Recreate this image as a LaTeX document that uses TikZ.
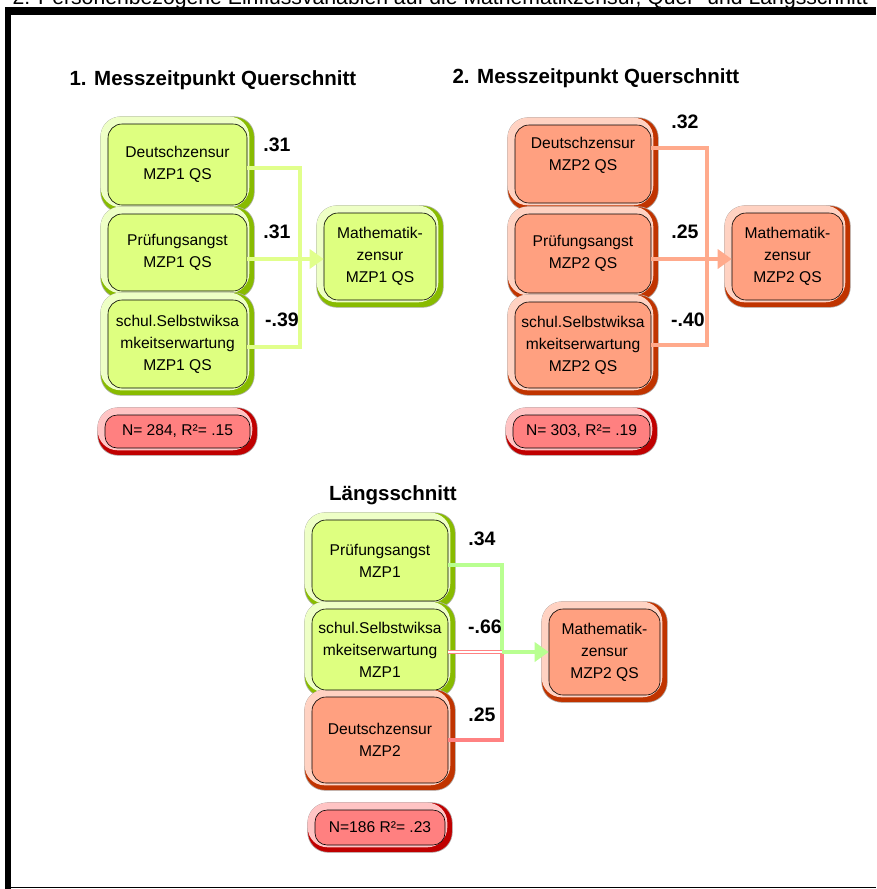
\documentclass[tikz,border=0pt]{standalone}
\usepackage{fontspec}
\setmainfont{Liberation Sans}
\usepackage{tikz}
\usetikzlibrary{calc,arrows.meta,positioning,backgrounds}

\definecolor{fillgrn}{RGB}{222,255,128}
\definecolor{lightgrn}{RGB}{238,255,198}
\definecolor{darkgrn}{RGB}{136,187,0}
\definecolor{fillsal}{RGB}{255,160,128}
\definecolor{lightsal}{RGB}{255,210,194}
\definecolor{darksal}{RGB}{192,52,0}
\definecolor{fillred}{RGB}{255,128,128}
\definecolor{lightred}{RGB}{255,196,196}
\definecolor{darkred}{RGB}{192,0,0}
\definecolor{linkgrn}{RGB}{225,255,140}
\definecolor{linksal}{RGB}{255,170,140}
\definecolor{linklgr}{RGB}{185,255,145}
\definecolor{linkred}{RGB}{255,130,130}

\begin{document}
\begin{tikzpicture}
[x=1pt, y=-1pt, >={Triangle[length=14pt,width=19pt]}]
% Define styles for boxes, weights and links
\tikzstyle{box} = [draw=black, line width=0.6pt, rounded corners=14pt, align=center, inner sep=2pt, font=\fontsize{15.6}{22}\selectfont]
\tikzstyle{grnbox} = [box, fill=fillgrn]
\tikzstyle{salbox} = [box, fill=fillsal]
\tikzstyle{nbox} = [box, fill=fillred, rounded corners=12pt]
\tikzstyle{weight} = [font=\fontsize{19.5}{22}\selectfont\bfseries]
\tikzstyle{heading} = [font=\fontsize{20.5}{24}\selectfont\bfseries]
\tikzstyle{link} = [line width=4pt, line join=miter]

\useasboundingbox (0,0) rectangle (876,889);

% Frame and caption
\node [anchor=base east, inner sep=0pt, font=\fontsize{21.2}{24}\selectfont] (caption) at (868,4) {2: Personenbezogene Einflussvariablen auf die Mathematikzensur, Quer- und Längsschnitt};
\fill [black] (5,7) rectangle (876,15);
\fill [black] (5,7) rectangle (11,889);
\draw [line width=1.2pt] (5,887.5) -- (876,887.5);

% Headings
\node [heading, anchor=west] (head1) at (66,80) {1. Messzeitpunkt Querschnitt};
\node [heading, anchor=west] (head2) at (449,78) {2. Messzeitpunkt Querschnitt};
\node [heading] (head3) at (393,495) {Längsschnitt};

% Nodes placement, 1. Messzeitpunkt
\node [grnbox, minimum width=139pt, minimum height=81pt] (D1) at (177.5,164.5) {Deutschzensur\\MZP1 QS};
\node [grnbox, minimum width=139pt, minimum height=77pt] (P1) at (177.5,252.5) {Prüfungsangst\\MZP1 QS};
\node [grnbox, minimum width=139pt, minimum height=88pt] (S1) at (177.5,344) {schul.Selbstwiksa\\mkeitserwartung\\MZP1 QS};
\node [grnbox, minimum width=112pt, minimum height=87pt] (M1) at (380,256.5) {Mathematik-\\zensur\\MZP1 QS};
\node [nbox, minimum width=145pt, minimum height=33pt] (N1) at (177.5,431.5) {N= 284, R²= .15};

% Nodes placement, 2. Messzeitpunkt
\node [salbox, minimum width=136pt, minimum height=78pt, text depth=20pt] (D2) at (583,164) {Deutschzensur\\MZP2 QS};
\node [salbox, minimum width=136pt, minimum height=79pt] (P2) at (583,253.5) {Prüfungsangst\\MZP2 QS};
\node [salbox, minimum width=136pt, minimum height=86pt] (S2) at (583,345) {schul.Selbstwiksa\\mkeitserwartung\\MZP2 QS};
\node [salbox, minimum width=111pt, minimum height=87pt] (M2) at (787.5,256.5) {Mathematik-\\zensur\\MZP2 QS};
\node [nbox, minimum width=137pt, minimum height=33pt] (N2) at (581.5,431.5) {N= 303, R²= .19};

% Nodes placement, Laengsschnitt
\node [grnbox, minimum width=136pt, minimum height=81pt] (P3) at (380,560.5) {Prüfungsangst\\MZP1};
\node [grnbox, minimum width=136pt, minimum height=81pt] (S3) at (380,649.5) {schul.Selbstwiksa\\mkeitserwartung\\MZP1};
\node [salbox, minimum width=136pt, minimum height=86pt] (D3) at (380,740) {Deutschzensur\\MZP2};
\node [salbox, minimum width=111pt, minimum height=86pt] (M3) at (604.5,652) {Mathematik-\\zensur\\MZP2 QS};
\node [nbox, minimum width=130pt, minimum height=35pt] (N3) at (380,827.5) {N=186 R²= .23};

% Bevelled shells behind the boxes
\begin{scope}[on background layer]
\foreach \n/\c in {D1/grn, P1/grn, S1/grn, M1/grn, N1/red, D2/sal, P2/sal, S2/sal, M2/sal, N2/red, P3/grn, S3/grn, D3/sal, M3/sal, N3/red}{
  \path [fill=dark\c, draw=gray!60, line width=0.6pt, rounded corners=20pt]
    ($(\n.south west)+(-7pt,-7pt)$) rectangle ($(\n.north east)+(7pt,7pt)$);
  \begin{scope}
    \clip [rounded corners=20pt] ($(\n.south west)+(-7pt,-7pt)$) rectangle ($(\n.north east)+(7pt,7pt)$);
    \fill [light\c, rounded corners=20pt] ($(\n.south west)+(-7pt,-2pt)$) rectangle ($(\n.north east)+(2pt,7pt)$);
  \end{scope}
}
\end{scope}

% Junctions
\coordinate (j1) at (300,0);
\coordinate (j2) at (707,0);
\coordinate (j3) at (502,0);

% Draw edges, 1. Messzeitpunkt
\draw [link, draw=linkgrn] ([yshift=-3.5pt]D1.east) -| ([yshift=-3pt]S1.east -| j1) -- ([yshift=-3pt]S1.east);
\draw [link, draw=linkgrn, fill=linkgrn, ->] ([yshift=-6.5pt]P1.east) -- ([yshift=-6.5pt]P1.east -| M1.west);

% Draw edges, 2. Messzeitpunkt
\draw [link, draw=linksal] ([yshift=16pt]D2.east) -| (S2.east -| j2) -- (S2.east);
\draw [link, draw=linksal, fill=linksal, ->] ([yshift=-5.5pt]P2.east) -- ([yshift=-5.5pt]P2.east -| M2.west);

% Draw edges, Laengsschnitt
\draw [link, draw=linkred] (D3.east) -| (M3.west -| j3);
\draw [link, draw=linklgr] ([yshift=-4.5pt]P3.east) -| (M3.west -| j3);
\draw [link, draw=linklgr, fill=linklgr, ->] (M3.west -| j3) -- (M3.west);
\draw [draw=linkred, line width=0.9pt, double=white, double distance=1.8pt] ([yshift=-2.5pt]S3.east) -- (M3.west -| j3);

% Weights
\node [weight] (w11) at (277,145) {.31};
\node [weight] (w12) at (277,232) {.31};
\node [weight] (w13) at (282,320) {-.39};
\node [weight] (w21) at (685,122) {.32};
\node [weight] (w22) at (685,232) {.25};
\node [weight] (w23) at (688,320) {-.40};
\node [weight] (w31) at (482,539) {.34};
\node [weight] (w32) at (485,627) {-.66};
\node [weight] (w33) at (482,715) {.25};
\end{tikzpicture}
\end{document}
